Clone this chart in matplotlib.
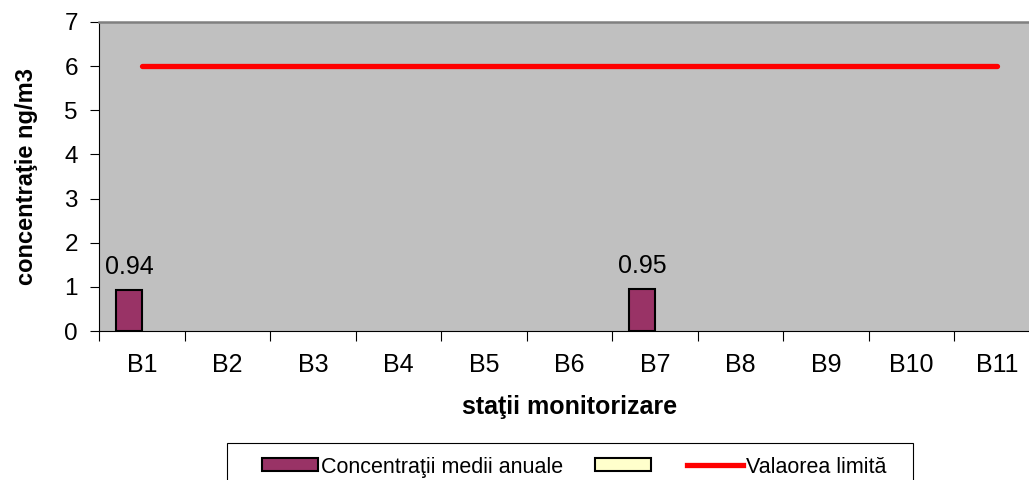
import numpy as np
import matplotlib.pyplot as plt
from matplotlib.patches import Patch, Rectangle
from matplotlib.lines import Line2D

plt.rcParams['font.family'] = ['Liberation Sans', 'DejaVu Sans']

statii = ['B1', 'B2', 'B3', 'B4', 'B5', 'B6', 'B7', 'B8', 'B9', 'B10', 'B11']
conc_medii = [0.94, np.nan, np.nan, np.nan, np.nan, np.nan, 0.95, np.nan, np.nan, np.nan, np.nan]
serie2 = [np.nan] * 11
valoare_limita = [6] * 11

fig = plt.figure(figsize=(10.29, 4.8), dpi=100)
# plot area runs past the right edge of the picture, as in the original
ax = fig.add_axes([0.0965, 0.3104, 0.914, 0.6438])
ax.set_facecolor('#C0C0C0')

x = np.arange(len(statii))
w = 0.3
ax.bar(x - w / 2, conc_medii, w, color='#993366', edgecolor='black', linewidth=1.5)
ax.bar(x + w / 2, serie2, w, color='#FFFFCC', edgecolor='black', linewidth=1.5)
ax.plot(x, valoare_limita, color='#FF0000', linewidth=3.8, solid_capstyle='round')

for xi, v in zip(x, conc_medii):
    if not np.isnan(v):
        ax.text(xi - w / 2, v + 0.36, f'{v:.2f}', ha='center', va='baseline', fontsize=18)

ax.set_xlim(-0.5, len(statii) - 0.5)
ax.set_ylim(0, 7)
ax.set_yticks(range(8))
ax.set_xticks(x)
ax.set_xticklabels(statii, fontsize=18)
ax.set_xticks(np.arange(-0.5, len(statii)), minor=True)
ax.tick_params(axis='x', which='major', length=0, pad=16)
ax.tick_params(axis='x', which='minor', length=7, width=0.8)
ax.tick_params(axis='y', labelsize=17.5, length=6.5, width=0.8, pad=9)

ax.spines['top'].set_color('#808080')
ax.spines['top'].set_linewidth(1.8)
ax.spines['right'].set_visible(False)
ax.spines['left'].set_linewidth(0.8)
ax.spines['bottom'].set_linewidth(0.8)

ax.set_xlabel('staţii monitorizare', fontsize=18, fontweight='bold', labelpad=13)
ax.set_ylabel('concentraţie ng/m3', fontsize=17, fontweight='bold', labelpad=19)

handles = [
    Patch(facecolor='#993366', edgecolor='black', linewidth=1.5),
    Patch(facecolor='#FFFFCC', edgecolor='black', linewidth=1.5),
    Line2D([0], [0], color='#FF0000', linewidth=3.8),
]
labels = ['Concentraţii medii anuale', '', 'Valaorea limită']
fig.legend(handles, labels, loc='center', bbox_to_anchor=(0.5578, 0.027),
           ncol=3, fontsize=15.5, frameon=False,
           handlelength=2.6, handleheight=0.55, handletextpad=0.15, columnspacing=1.5,
           borderpad=0.2, borderaxespad=0)
# legend frame runs off the bottom edge in the original
fig.patches.append(Rectangle((227 / 1029, -0.05), 686 / 1029, 1 - 443 / 480 + 0.05,
                             transform=fig.transFigure, facecolor='none',
                             edgecolor='black', linewidth=0.8, zorder=0))

fig.savefig('out.png', dpi=100)
